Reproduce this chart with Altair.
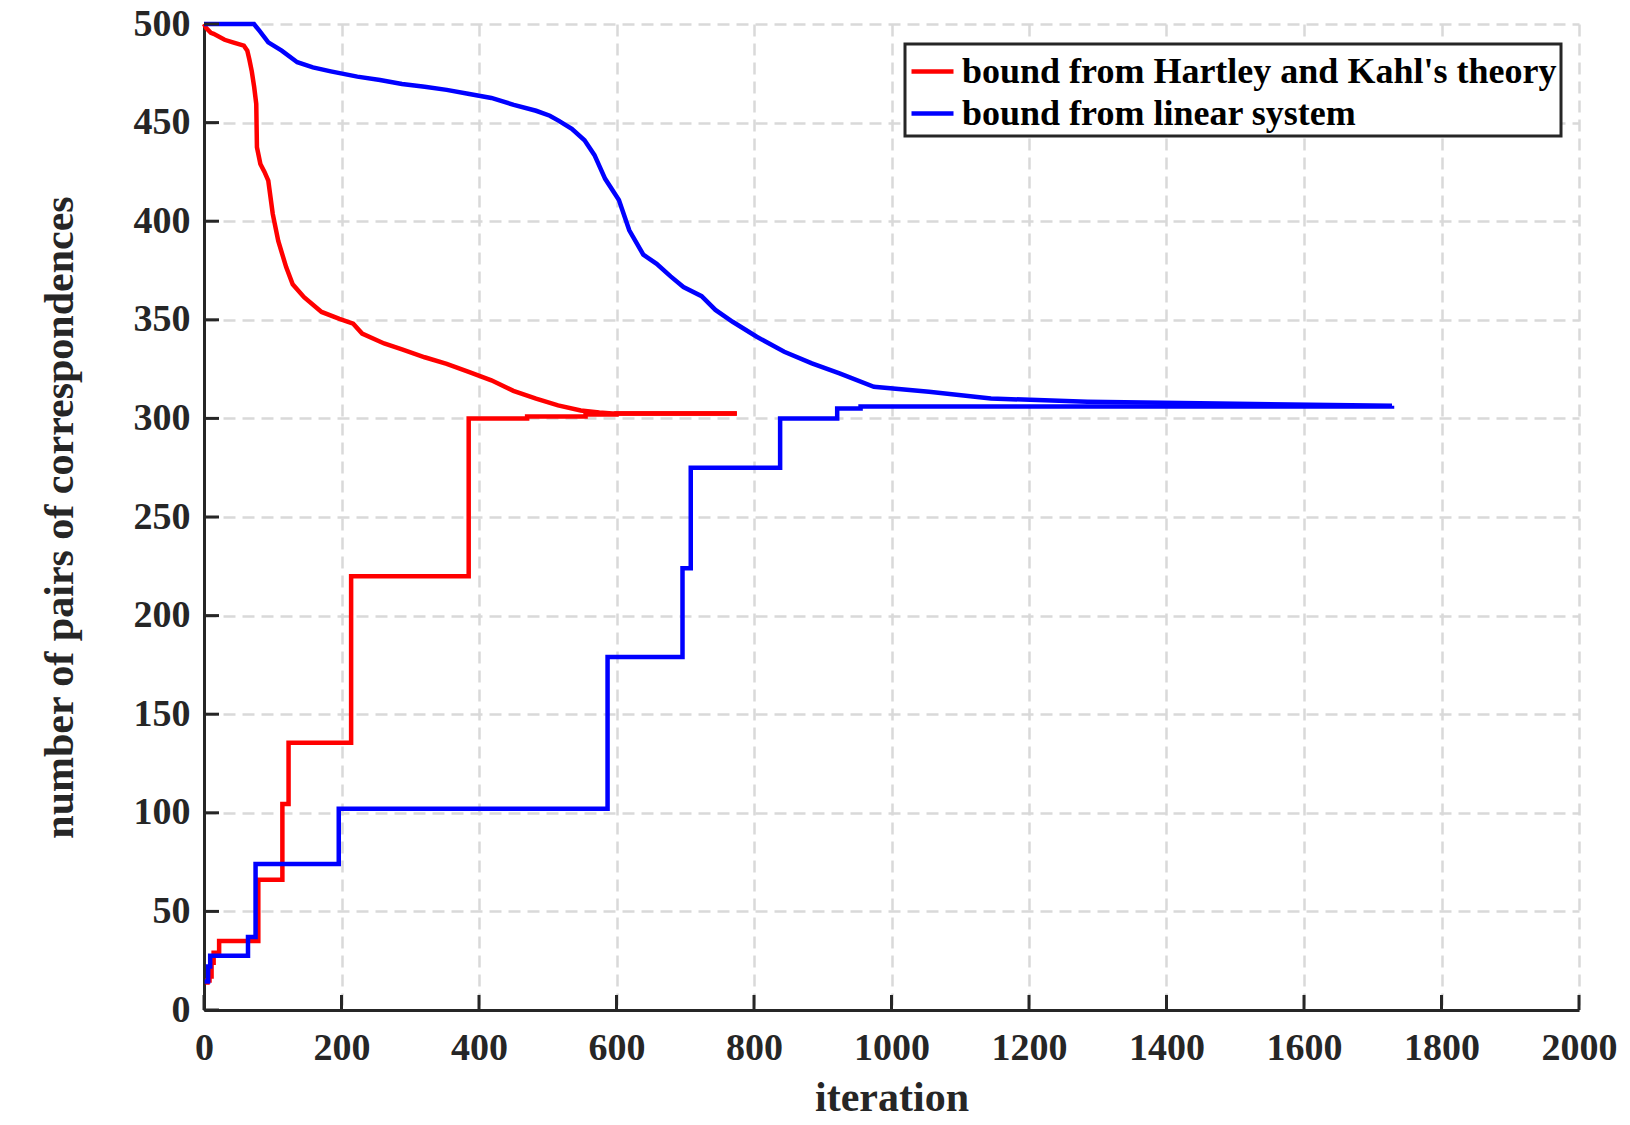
import altair as alt
import pandas as pd

S_HK = "bound from Hartley and Kahl's theory"
S_LIN = "bound from linear system"

# red: upper bound (decreasing) from Hartley & Kahl
red_up_x = [0, 3, 10, 14, 30, 42, 58, 63, 66, 69.5, 73, 76, 77, 82, 88, 93.5, 100, 108, 119.5, 129, 145.5,
            171, 197, 217, 230, 262, 288, 321, 353, 386, 418, 450, 483, 515, 548, 575, 594, 650, 700, 775]
red_up_y = [500, 498, 495.5, 495, 492, 490.7, 489, 486.5, 482, 476, 468, 459.5, 437.5, 429, 425, 420.6, 403.7,
            390, 376.7, 368, 361.5, 354, 350.5, 348, 343, 338, 335, 331, 327.7, 323.5, 319.3, 314, 310, 306.6,
            304, 303, 302.5, 302.5, 302.5, 302.5]
# red: lower bound (increasing, stepwise)
red_lo_x = [2, 5, 8, 11, 14, 22, 79, 114, 123, 214, 385, 470, 555, 600, 775]
red_lo_y = [14, 15, 17, 24, 29, 35, 66, 104.5, 135.5, 220, 300, 301, 302, 302.5, 302.5]

# blue: upper bound (decreasing) from linear system
blue_up_x = [0, 72.7, 80.5, 93.5, 113, 135.7, 158.4, 184.4, 223, 256, 288, 321, 353, 386, 418, 450.6, 483,
             503, 515.6, 535, 553.5, 568, 583.5, 603.5, 618.6, 639, 658.4, 678.7, 697.4, 723.8, 743.9, 768.9,
             804, 844, 884.2, 924.4, 974.4, 1054.5, 1144.7, 1285, 1475.6, 1728]
blue_up_y = [500, 500, 496.6, 490.7, 486.5, 480.6, 478, 476, 473.3, 471.6, 469.6, 468.2, 466.6, 464.5, 462.5,
             459, 456, 453.5, 451, 446.8, 441, 433.5, 421.5, 410.7, 395.4, 383, 378.4, 372, 366.6, 362, 355,
             349, 341.4, 333.8, 327.9, 322.8, 316, 313.5, 310.1, 308.4, 307.5, 306.4]
# blue: lower bound (increasing, stepwise)
blue_lo_x = [1, 6, 9, 64, 75, 196, 587, 696, 708, 838, 921, 955, 1728]
blue_lo_y = [14.5, 22, 27.5, 37, 74, 102, 179, 224, 275, 300, 305, 306, 306.4]

x_ticks = list(range(0, 2001, 200))
y_ticks = list(range(0, 501, 50))

up = pd.concat([
    pd.DataFrame({"iteration": red_up_x, "value": red_up_y, "series": S_HK}),
    pd.DataFrame({"iteration": blue_up_x, "value": blue_up_y, "series": S_LIN}),
])
lo = pd.concat([
    pd.DataFrame({"iteration": red_lo_x, "value": red_lo_y, "series": S_HK}),
    pd.DataFrame({"iteration": blue_lo_x, "value": blue_lo_y, "series": S_LIN}),
])

W, H = 1375, 986
FONT = "Liberation Serif"
DARK = "#262626"

xscale = alt.Scale(domain=[0, 2000], nice=False)
yscale = alt.Scale(domain=[0, 500], nice=False)

color = alt.Color(
    "series:N",
    scale=alt.Scale(domain=[S_HK, S_LIN], range=["#ff0000", "#0000ff"]),
    legend=alt.Legend(
        title=None, orient="none", legendX=701, legendY=20,
        symbolType="stroke", symbolSize=1764, symbolStrokeWidth=4.5,
        labelFont=FONT, labelFontWeight="bold", labelFontSize=36, labelColor="black",
        labelLimit=2000, labelOffset=6, rowPadding=0, padding=4,
        fillColor="white", strokeColor=DARK,
    ),
)

xaxis = alt.Axis(values=x_ticks, format="d", title="iteration", titleY=87, titleBaseline="middle",
                 labelPadding=19, labelFlush=False)
yaxis = alt.Axis(values=y_ticks, format="d", title="number of pairs of correspondences", titleAngle=270,
                 titleX=-145, titleY=H / 2, titleAlign="center", titleBaseline="middle",
                 labelPadding=14, labelFlush=False)

upper = alt.Chart(up).mark_line(strokeWidth=4.5).encode(
    x=alt.X("iteration:Q", scale=xscale, axis=xaxis),
    y=alt.Y("value:Q", scale=yscale, axis=yaxis),
    color=color,
)
lower = alt.Chart(lo).mark_line(strokeWidth=4.5, interpolate="step-after").encode(
    x=alt.X("iteration:Q", scale=xscale),
    y=alt.Y("value:Q", scale=yscale),
    color=color,
)

ytick_df = pd.DataFrame({"value": y_ticks})
xtick_df = pd.DataFrame({"iteration": x_ticks})
yticks = alt.Chart(ytick_df).mark_rule(color=DARK, strokeWidth=3).encode(
    y=alt.Y("value:Q", scale=yscale),
    x=alt.value(0), x2=alt.value(15),
)
xticks = alt.Chart(xtick_df).mark_rule(color=DARK, strokeWidth=3).encode(
    x=alt.X("iteration:Q", scale=xscale),
    y=alt.value(H), y2=alt.value(H - 15),
)

chart = alt.layer(upper, lower, yticks, xticks).properties(
    width=W, height=H,
    padding={"left": 204, "top": 24, "right": 51, "bottom": 115},
    autosize=alt.AutoSizeParams(type="none"),
    background="white",
).configure_view(
    strokeWidth=0,
).configure_axis(
    labelFont=FONT, labelFontWeight="bold", labelFontSize=38, labelColor=DARK,
    titleFont=FONT, titleFontWeight="bold", titleFontSize=42, titleColor=DARK,
    domainColor=DARK, domainWidth=3, ticks=False,
    gridColor="#d9d9d9", gridDash=[12, 7], gridWidth=2.5,
).configure_legend(
    strokeWidth=3,
)

chart.save("out.html", embed_options={"renderer": "svg", "actions": False})
